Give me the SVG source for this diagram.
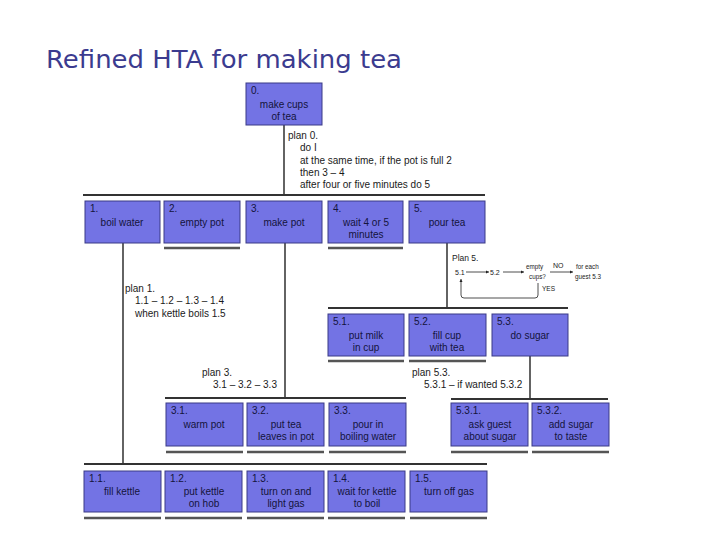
<svg xmlns="http://www.w3.org/2000/svg" width="720" height="540" viewBox="0 0 720 540">
<defs>
<marker id="ah" viewBox="0 0 10 10" refX="10" refY="5" markerWidth="4" markerHeight="4" orient="auto">
<path d="M0,0 L10,5 L0,10 z" fill="#222"/>
</marker>
<style>
.title{font-family:"DejaVu Sans",sans-serif;font-size:25.5px;fill:#3b3b8f}
.box{fill:#7373e4;stroke:#3a3a86;stroke-width:1}
.t{font-family:"Liberation Sans",Arial,sans-serif;font-size:10px;fill:#14143c}
.c{text-anchor:middle}
.p{font-family:"Liberation Sans",Arial,sans-serif;font-size:10px;fill:#1a1a1a}
.s{font-family:"Liberation Sans",Arial,sans-serif;font-size:7px;fill:#1a1a1a}
.ln{stroke:#222;stroke-width:1.4;fill:none}
.bar{stroke:#333;stroke-width:2;fill:none}
.leaf{stroke:#555;stroke-width:2.5;fill:none}
</style>
</defs>
<rect width="720" height="540" fill="#fff"/>
<text class="title" x="46" y="68" textLength="356" lengthAdjust="spacingAndGlyphs">Refined HTA for making tea</text>

<g id="connectors">
<line class="ln" x1="284" y1="125" x2="284" y2="195"/>
<line class="bar" x1="83" y1="195" x2="485" y2="195"/>
<line class="ln" x1="123" y1="243" x2="123" y2="464"/>
<line class="bar" x1="84" y1="464" x2="487" y2="464"/>
<line class="ln" x1="285" y1="243" x2="285" y2="398"/>
<line class="bar" x1="165" y1="398" x2="406" y2="398"/>
<line class="ln" x1="447" y1="243" x2="447" y2="308"/>
<line class="bar" x1="328" y1="308" x2="568" y2="308"/>
<line class="ln" x1="530" y1="356" x2="530" y2="399"/>
<line class="bar" x1="451" y1="399" x2="608" y2="399"/>
<g id="leafmarks">
<line class="leaf" x1="164" y1="248" x2="240" y2="248"/>
<line class="leaf" x1="328" y1="248" x2="403" y2="248"/>
<line class="leaf" x1="328" y1="361" x2="404" y2="361"/>
<line class="leaf" x1="409" y1="361" x2="486" y2="361"/>
<line class="leaf" x1="166" y1="452" x2="243" y2="452"/>
<line class="leaf" x1="247" y1="452" x2="324" y2="452"/>
<line class="leaf" x1="329" y1="452" x2="406" y2="452"/>
<line class="leaf" x1="451" y1="452" x2="528" y2="452"/>
<line class="leaf" x1="532" y1="452" x2="609" y2="452"/>
<line class="leaf" x1="84" y1="518" x2="161" y2="518"/>
<line class="leaf" x1="165" y1="518" x2="242" y2="518"/>
<line class="leaf" x1="247" y1="518" x2="324" y2="518"/>
<line class="leaf" x1="328" y1="518" x2="405" y2="518"/>
<line class="leaf" x1="410" y1="518" x2="487" y2="518"/>
</g>
</g>

<g id="plans">
<text class="p" x="288" y="139">plan 0.</text>
<text class="p" x="300" y="151">do I</text>
<text class="p" x="300" y="164">at the same time, if the pot is full 2</text>
<text class="p" x="300" y="176">then 3 – 4</text>
<text class="p" x="300" y="188">after four or five minutes do 5</text>

<text class="p" x="125" y="292">plan 1.</text>
<text class="p" x="135" y="304">1.1 – 1.2 – 1.3 – 1.4</text>
<text class="p" x="135" y="317">when kettle boils 1.5</text>

<text class="p" x="202" y="376">plan 3.</text>
<text class="p" x="213" y="388">3.1 – 3.2 – 3.3</text>

<text class="p" x="412" y="376">plan 5.3.</text>
<text class="p" x="424" y="388">5.3.1 – if wanted 5.3.2</text>
</g>

<g id="plan5">
<text class="p" x="452" y="261" style="font-size:8.5px">Plan 5.</text>
<text class="s" x="455" y="275">5.1</text>
<line class="ln" style="stroke-width:0.8" x1="466" y1="272" x2="489" y2="272" marker-end="url(#ah)"/>
<text class="s" x="490" y="275">5.2</text>
<line class="ln" style="stroke-width:0.8" x1="503" y1="272" x2="524" y2="272" marker-end="url(#ah)"/>
<text class="s" x="526" y="269" style="font-size:6.3px">empty</text>
<text class="s" x="529" y="279" style="font-size:6.3px">cups?</text>
<text class="s" x="553" y="268" style="font-size:7px">NO</text>
<line class="ln" style="stroke-width:0.8" x1="550" y1="272" x2="573" y2="272" marker-end="url(#ah)"/>
<text class="s" x="576" y="269" style="font-size:6.3px">for each</text>
<text class="s" x="575" y="279" style="font-size:6.3px">guest 5.3</text>
<text class="s" x="542" y="291" style="font-size:6.5px">YES</text>
<path class="ln" style="stroke-width:0.8" d="M538,283 V295 Q538,298 535,298 H464 Q461,298 461,295 V279" marker-end="url(#ah)"/>
</g>

<g id="n0"><rect class="box" x="246" y="83" width="76" height="42"/>
<text class="t" x="251" y="94">0.</text><text class="t c" x="284" y="108">make cups</text><text class="t c" x="284" y="120">of tea</text></g>

<g id="n1"><rect class="box" x="85" y="201" width="75" height="42"/>
<text class="t" x="90" y="212">1.</text><text class="t c" x="122" y="226">boil water</text></g>
<g id="n2"><rect class="box" x="164" y="201" width="76" height="42"/>
<text class="t" x="169" y="212">2.</text><text class="t c" x="202" y="226">empty pot</text></g>
<g id="n3"><rect class="box" x="246" y="201" width="76" height="42"/>
<text class="t" x="251" y="212">3.</text><text class="t c" x="284" y="226">make pot</text></g>
<g id="n4"><rect class="box" x="328" y="201" width="75" height="42"/>
<text class="t" x="333" y="212">4.</text><text class="t c" x="366" y="226">wait 4 or 5</text><text class="t c" x="366" y="238">minutes</text></g>
<g id="n5"><rect class="box" x="409" y="201" width="76" height="42"/>
<text class="t" x="414" y="212">5.</text><text class="t c" x="447" y="226">pour tea</text></g>

<g id="n5_1"><rect class="box" x="328" y="314" width="76" height="42"/>
<text class="t" x="333" y="325">5.1.</text><text class="t c" x="366" y="339">put milk</text><text class="t c" x="366" y="351">in cup</text></g>
<g id="n5_2"><rect class="box" x="409" y="314" width="77" height="42"/>
<text class="t" x="414" y="325">5.2.</text><text class="t c" x="447" y="339">fill cup</text><text class="t c" x="447" y="351">with tea</text></g>
<g id="n5_3"><rect class="box" x="492" y="314" width="76" height="42"/>
<text class="t" x="497" y="325">5.3.</text><text class="t c" x="530" y="339">do sugar</text></g>

<g id="n3_1"><rect class="box" x="166" y="403" width="77" height="43"/>
<text class="t" x="171" y="414">3.1.</text><text class="t c" x="204" y="428">warm pot</text></g>
<g id="n3_2"><rect class="box" x="247" y="403" width="77" height="43"/>
<text class="t" x="252" y="414">3.2.</text><text class="t c" x="286" y="428">put tea</text><text class="t c" x="286" y="440">leaves in pot</text></g>
<g id="n3_3"><rect class="box" x="329" y="403" width="77" height="43"/>
<text class="t" x="334" y="414">3.3.</text><text class="t c" x="368" y="428">pour in</text><text class="t c" x="368" y="440">boiling water</text></g>
<g id="n5_3_1"><rect class="box" x="451" y="403" width="77" height="43"/>
<text class="t" x="456" y="414">5.3.1.</text><text class="t c" x="490" y="428">ask guest</text><text class="t c" x="490" y="440">about sugar</text></g>
<g id="n5_3_2"><rect class="box" x="532" y="403" width="77" height="43"/>
<text class="t" x="537" y="414">5.3.2.</text><text class="t c" x="571" y="428">add sugar</text><text class="t c" x="571" y="440">to taste</text></g>

<g id="n1_1"><rect class="box" x="84" y="471" width="77" height="41"/>
<text class="t" x="89" y="482">1.1.</text><text class="t c" x="122" y="495">fill kettle</text></g>
<g id="n1_2"><rect class="box" x="165" y="471" width="77" height="41"/>
<text class="t" x="170" y="482">1.2.</text><text class="t c" x="204" y="495">put kettle</text><text class="t c" x="204" y="507">on hob</text></g>
<g id="n1_3"><rect class="box" x="247" y="471" width="77" height="41"/>
<text class="t" x="252" y="482">1.3.</text><text class="t c" x="286" y="495">turn on and</text><text class="t c" x="286" y="507">light gas</text></g>
<g id="n1_4"><rect class="box" x="328" y="471" width="77" height="41"/>
<text class="t" x="333" y="482">1.4.</text><text class="t c" x="367" y="495">wait for kettle</text><text class="t c" x="367" y="507">to boil</text></g>
<g id="n1_5"><rect class="box" x="410" y="471" width="77" height="41"/>
<text class="t" x="415" y="482">1.5.</text><text class="t c" x="449" y="495">turn off gas</text></g>
</svg>
